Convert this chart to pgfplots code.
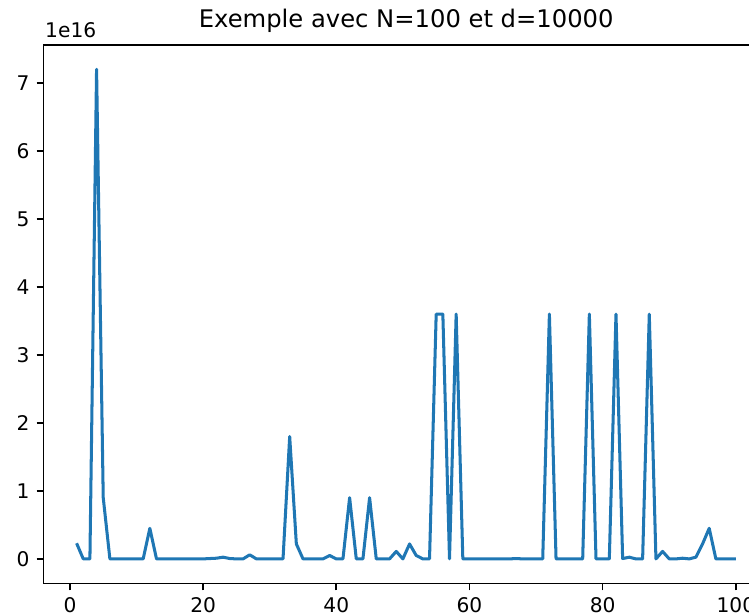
\documentclass[border=0pt]{standalone}
\usepackage{fontspec}
\setmainfont{DejaVu Sans}
\usepackage{pgfplots}
\pgfplotsset{compat=1.18}
\usepackage{pgfplotstable}
\definecolor{mplblue}{RGB}{31,119,180}

% values in units of 1e16
\pgfplotstableread{
x y
1 0.23
2 0
3 0
4 7.2
5 0.9
6 0
7 0
8 0
9 0
10 0
11 0
12 0.45
13 0
14 0
15 0
16 0
17 0
18 0
19 0
20 0
21 0.005
22 0.01
23 0.025
24 0.005
25 0
26 0
27 0.06
28 0
29 0
30 0
31 0
32 0
33 1.8
34 0.22
35 0
36 0
37 0
38 0
39 0.05
40 0
41 0
42 0.9
43 0
44 0
45 0.9
46 0
47 0
48 0
49 0.11
50 0
51 0.22
52 0.05
53 0
54 0
55 3.6
56 3.6
57 0
58 3.6
59 0
60 0
61 0
62 0
63 0
64 0
65 0
66 0
67 0.005
68 0
69 0
70 0
71 0
72 3.6
73 0
74 0
75 0
76 0
77 0
78 3.6
79 0
80 0
81 0
82 3.6
83 0.005
84 0.025
85 0
86 0
87 3.6
88 0
89 0.11
90 0
91 0
92 0.01
93 0
94 0.025
95 0.22
96 0.45
97 0
98 0
99 0
100 0
}\datatable

\begin{document}
\begin{tikzpicture}
\begin{axis}[
  width=359pt, height=266.6pt, scale only axis,
  xmin=-3.95, xmax=104.95,
  ymin=-0.36, ymax=7.56,
  xtick={0,20,40,60,80,100},
  ytick={0,1,2,3,4,5,6,7},
  tick align=outside,
  major tick length=3.5pt,
  xtick pos=bottom, ytick pos=left,
  every tick/.style={black, line width=0.8pt},
  axis line style={line width=0.8pt},
  ticklabel style={font=\fontsize{10}{12}\selectfont},
  /pgf/number format/assume math mode=true,
]
  \addplot[mplblue, line width=1.5pt, line join=round] table[x=x, y=y] {\datatable};
\end{axis}
\node[anchor=south, inner sep=0pt, font=\fontsize{12}{14}\selectfont, yshift=6pt] at (current axis.north) {Exemple avec N=100 et d=10000};
\node[anchor=south west, inner sep=0pt, font=\fontsize{10}{12}\selectfont, xshift=0.6pt, yshift=3.3pt] at (current axis.north west) {1e16};
\pgfresetboundingbox
\path[use as bounding box] (current axis.south west) ++(-21.6pt,-16.1pt) rectangle ++(370.8pt,304.9pt);
\end{tikzpicture}
\end{document}
